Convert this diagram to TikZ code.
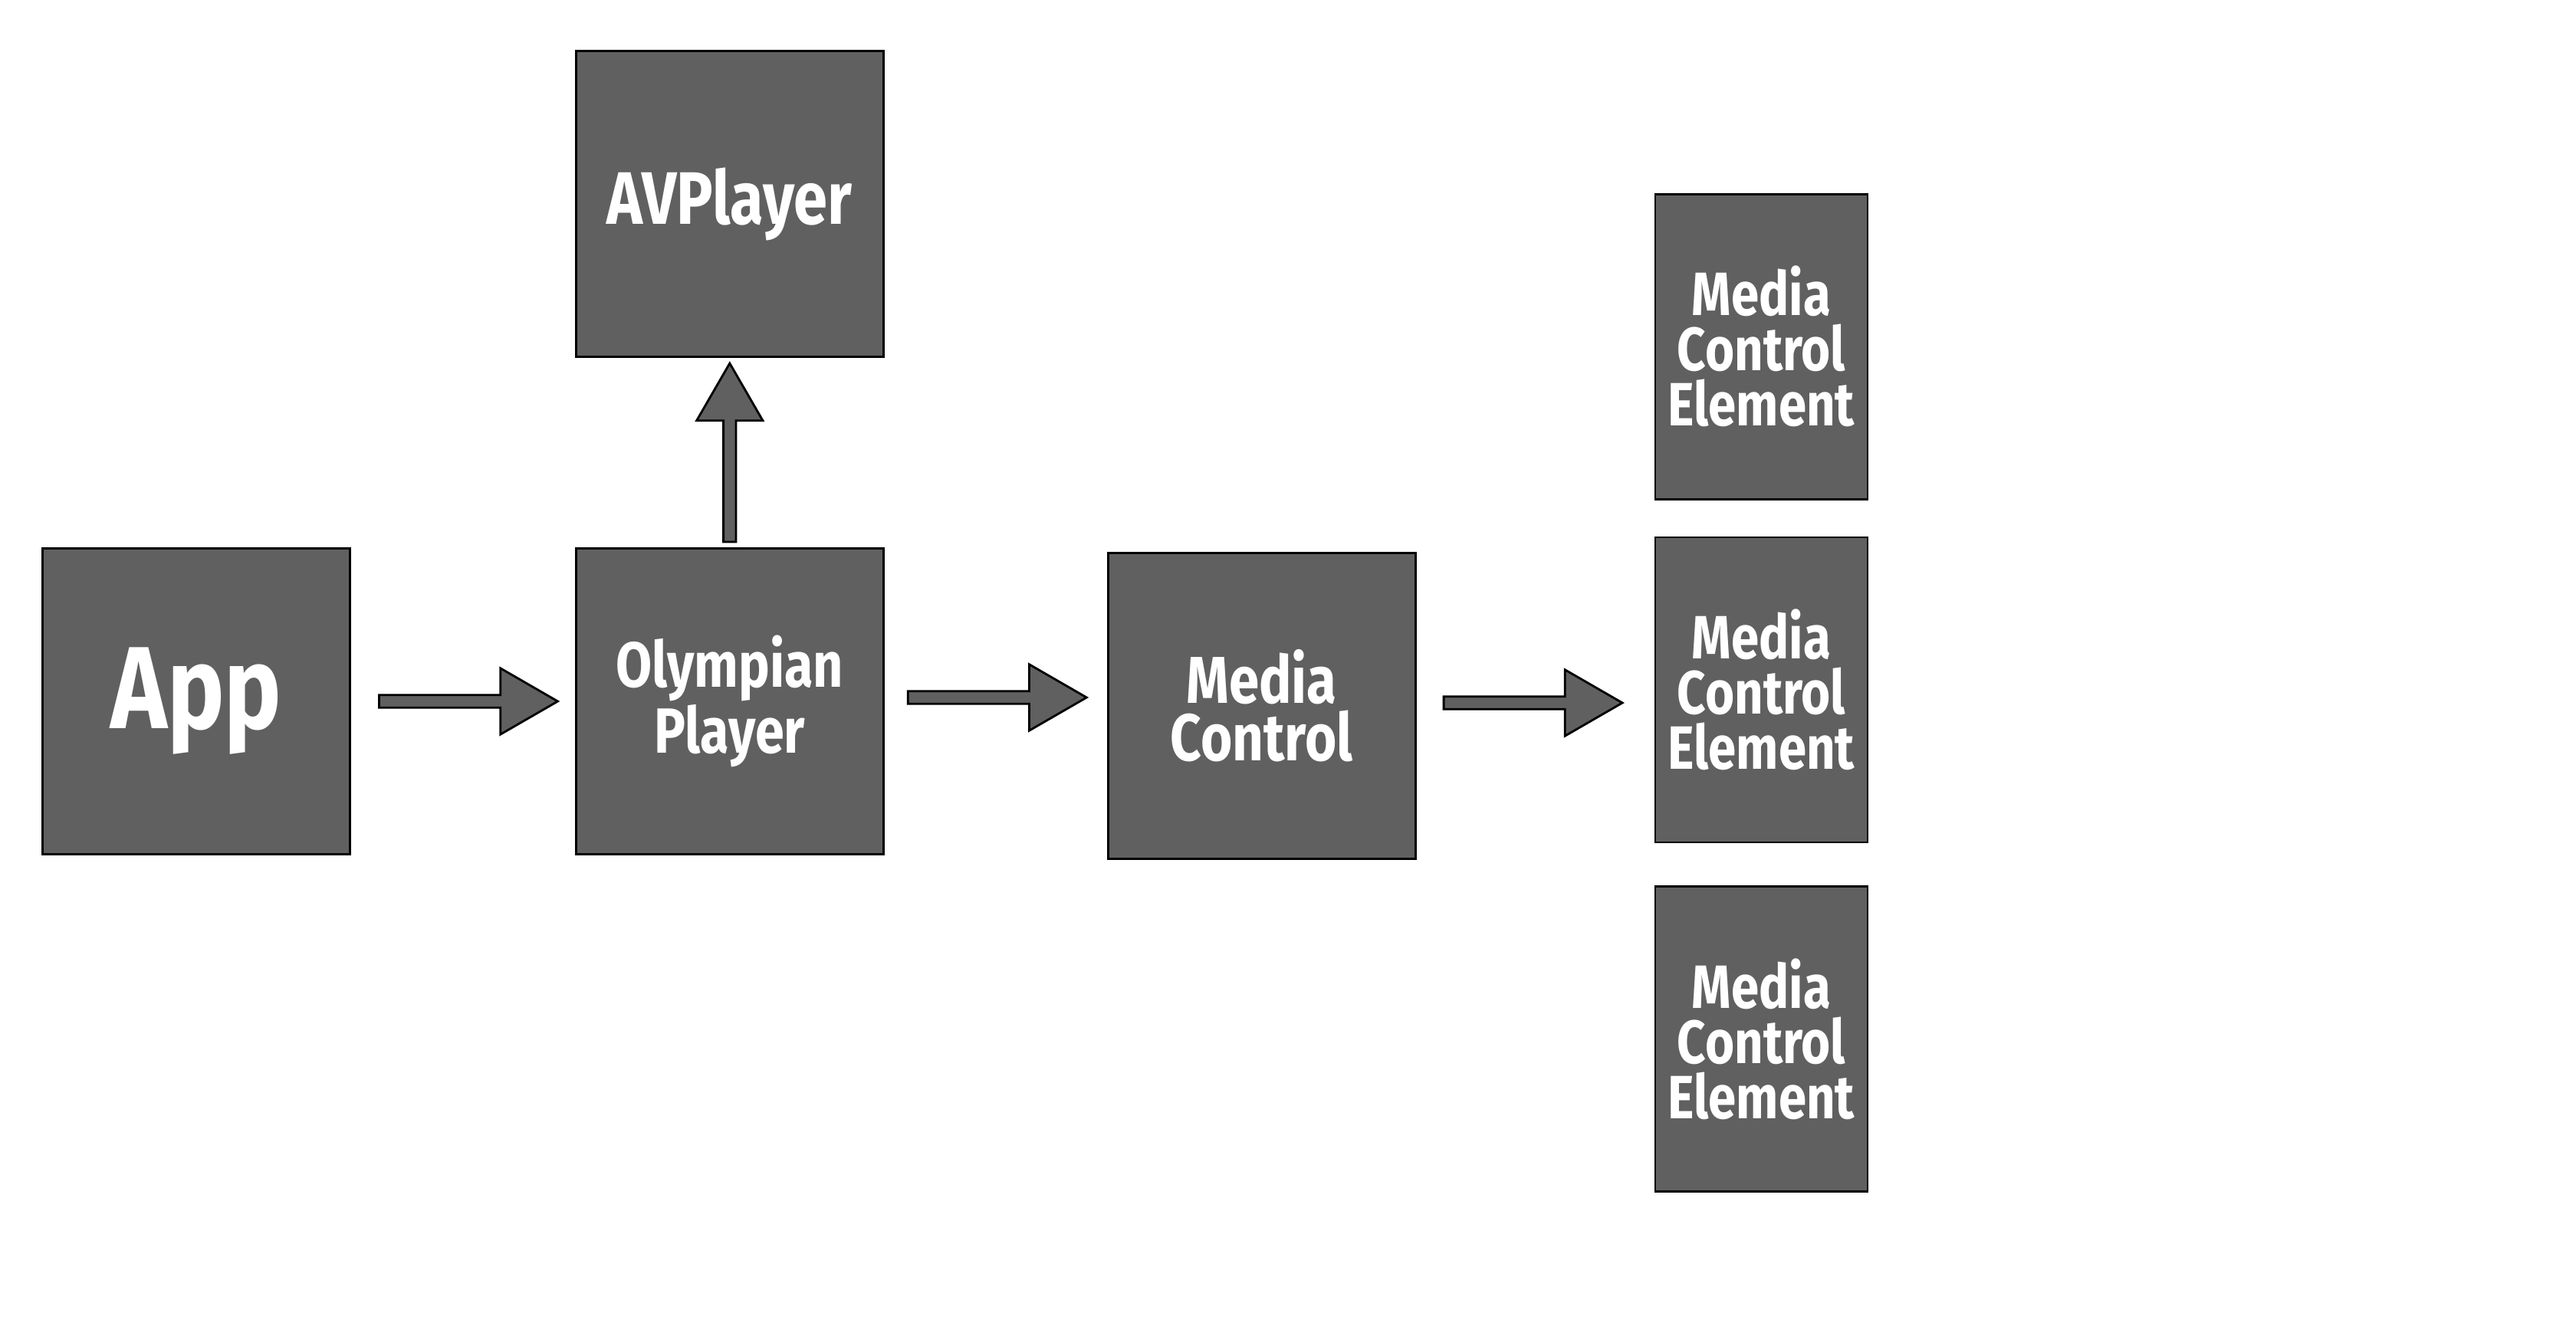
\documentclass[tikz,border=0pt]{standalone}
\usepackage{fontspec}
\newfontfamily\boxfont[FakeStretch=0.82]{Fira Sans}
\usetikzlibrary{positioning,shapes.arrows,calc}
\definecolor{boxgray}{HTML}{606060}

\begin{document}
\begin{tikzpicture}[node distance=3cm,
    box/.style={draw=black, line width=0.8pt, fill=boxgray, text=white, minimum width=4.01cm, minimum height=3.99cm, align=center, inner sep=0pt},
    elem/.style={box, minimum width=2.77cm, minimum height=3.98cm, font=\boxfont\bfseries\fontsize{22.7}{20.5}\selectfont},
    fatarrow/.style={single arrow, draw=black, line width=0.8pt, fill=boxgray, inner sep=0.068cm, single arrow head extend=0.35cm, single arrow tip angle=60, minimum height=2.33cm}]
    \useasboundingbox (-2.56,-8.15) rectangle (31.04,9.15);
    \node[box, font=\boxfont\bfseries\fontsize{43.4}{43.4}\selectfont] (app) {App};
    \node[box, font=\boxfont\bfseries\fontsize{23.7}{20}\selectfont] (olympian) [right=2.92cm of app] {Olympian\\Player};
    \node[box, font=\boxfont\bfseries\fontsize{27.6}{27.6}\selectfont] (avplayer) [above=2.47cm of olympian] {AVPlayer};
    \node[box, font=\boxfont\bfseries\fontsize{24.6}{21.3}\selectfont] (mediactl) [right=2.90cm of olympian, yshift=-0.06cm] {Media\\Control};
    \node[elem] (elem2) [right=3.10cm of mediactl, yshift=0.21cm] {Media\\Control\\Element};
    \node[elem] (elem1) [above=0.47cm of elem2] {Media\\Control\\Element};
    \node[elem] (elem3) [below=0.55cm of elem2] {Media\\Control\\Element};

    % block arrows between the boxes
    \path (app.east) -- node[fatarrow] (appto) {} (olympian.west);
    \path (olympian.north) -- node[fatarrow, shape border rotate=90, yshift=-0.07cm] (toav) {} (avplayer.south);
    \path (olympian.east) -- node[fatarrow, xshift=-0.05cm, yshift=0.08cm] (toctl) {} (mediactl.west);
    \path (mediactl.east) -- node[fatarrow, xshift=-0.1cm, yshift=-0.065cm] (toelem) {} (elem2.west);
\end{tikzpicture}
\end{document}
